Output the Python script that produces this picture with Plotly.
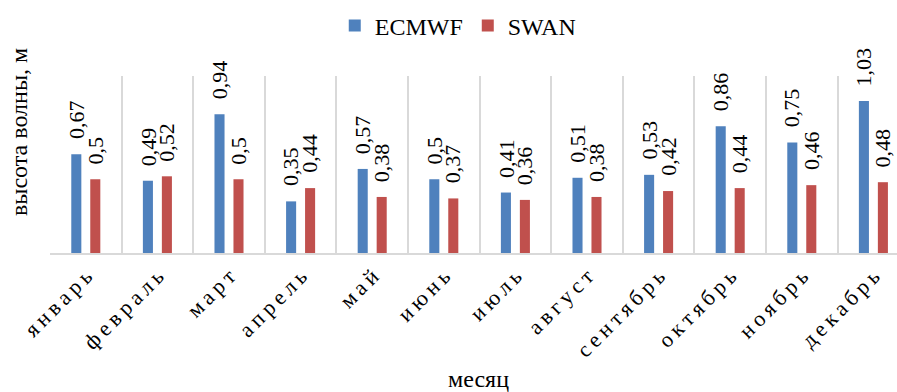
import plotly.graph_objects as go

months = ["январь", "февраль", "март", "апрель", "май", "июнь",
          "июль", "август", "сентябрь", "октябрь", "ноябрь", "декабрь"]
ecmwf = [0.67, 0.49, 0.94, 0.35, 0.57, 0.5, 0.41, 0.51, 0.53, 0.86, 0.75, 1.03]
swan = [0.5, 0.52, 0.5, 0.44, 0.38, 0.37, 0.36, 0.38, 0.42, 0.44, 0.46, 0.48]

BLUE = "#4F81BD"
RED = "#C0504D"
FONT = "Liberation Serif"

W, H = 897, 392
ML, MR, MT, MB = 50, 0, 76, 139
plot_w = W - ML - MR
cat_px = 71.6
x_end = -0.5 + plot_w / cat_px

# month names drawn with a little letter spacing
spaced = ["\u2009".join(m) for m in months]


def fmt(v):
    return ("%g" % v).replace(".", ",")


fig = go.Figure()
fig.add_trace(go.Bar(name="ECMWF", x=months, y=ecmwf, marker_color=BLUE,
                     marker_line_width=0))
fig.add_trace(go.Bar(name="SWAN", x=months, y=swan, marker_color=RED,
                     marker_line_width=0))

annotations = []
off = 0.1325
for i in range(len(months)):
    for v, dx in ((ecmwf[i], -off), (swan[i], off)):
        annotations.append(dict(
            x=i + dx, y=v, xref="x", yref="y", text=fmt(v), textangle=-90,
            showarrow=False, xanchor="center", yanchor="bottom", yshift=14,
            font=dict(family=FONT, size=22, color="#000"), borderpad=0))

ph = H - MT - MB
annotations.append(dict(
    text="высота волны, м", textangle=-90, showarrow=False,
    xref="paper", yref="paper", x=(19 - ML) / plot_w, y=(MT + ph - 132) / ph,
    xanchor="center", yanchor="middle",
    font=dict(family=FONT, size=24, color="#000")))
annotations.append(dict(
    text="месяц", showarrow=False,
    xref="paper", yref="paper", x=(479 - ML) / plot_w, y=(MT + ph - 379) / ph,
    xanchor="center", yanchor="middle",
    font=dict(family=FONT, size=24, color="#000")))

fig.update_layout(
    width=W, height=H,
    margin=dict(l=ML, r=MR, t=MT, b=MB, pad=0),
    paper_bgcolor="white", plot_bgcolor="white",
    barmode="group", bargap=0.47, bargroupgap=0.47,
    font=dict(family=FONT, size=22, color="#000"),
    showlegend=True,
    legend=dict(orientation="h", x=0.482, xanchor="center",
                y=(H - 26) / H, yref="container", yanchor="middle",
                font=dict(family=FONT, size=24, color="#000"),
                itemwidth=30, traceorder="normal"),
    annotations=annotations,
)
fig.update_xaxes(
    type="category", range=[-0.5, x_end], tickmode="array", tickvals=months,
    ticktext=spaced, tickangle=-45, tickson="boundaries", ticks="",
    showgrid=True, gridcolor="#D9D9D9", gridwidth=2, showline=True,
    linecolor="#D9D9D9", linewidth=2, ticklabelstandoff=0,
    tickfont=dict(family=FONT, size=22, color="#000"),
)
fig.update_yaxes(range=[0, 1.2], showticklabels=False, showgrid=False,
                 zeroline=False, showline=False)

fig.write_html("out.html")
